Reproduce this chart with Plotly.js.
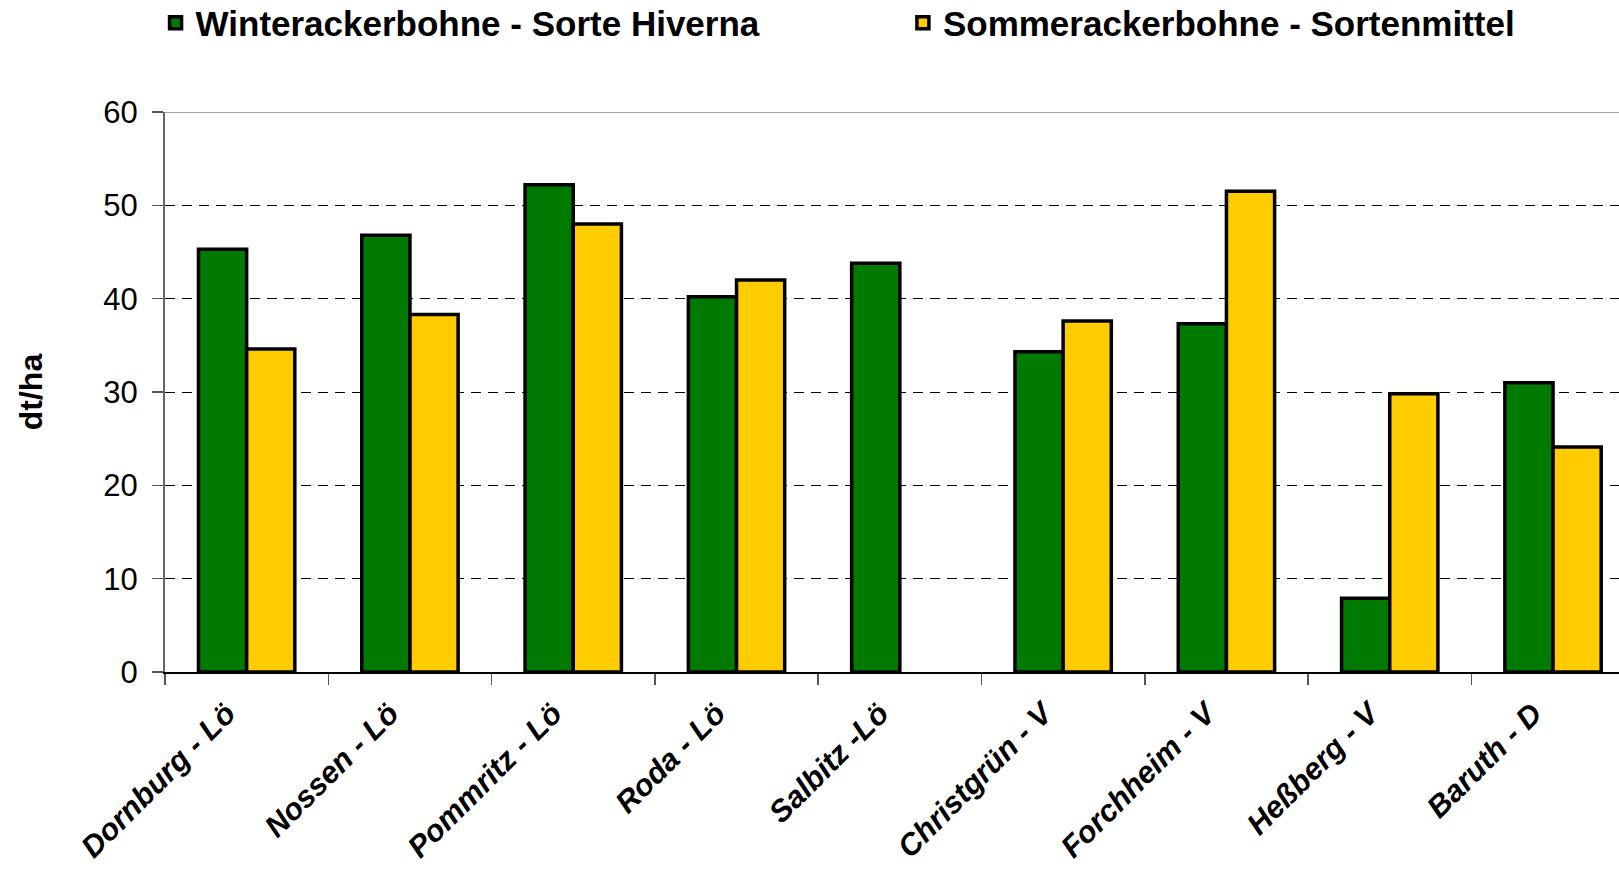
<!DOCTYPE html>
<html>
<head>
<meta charset="utf-8">
<script src="https://cdn.plot.ly/plotly-3.0.1.min.js"></script>
<style>html,body{margin:0;padding:0;background:#fff;}#chart{width:1619px;height:869px;}</style>
</head>
<body>
<div id="chart"></div>
<script>
const categories = ["Dornburg - Lö", "Nossen - Lö", "Pommritz - Lö", "Roda - Lö", "Salbitz -Lö",
                    "Christgrün - V", "Forchheim - V", "Heßberg - V", "Baruth - D"];
const winterName = "Winterackerbohne - Sorte Hiverna";
const sommerName = "Sommerackerbohne - Sortenmittel";
const winterValues = [45.3, 46.8, 52.2, 40.2, 43.8, 34.3, 37.3, 7.9, 31.0];
const sommerValues = [34.6, 38.3, 48.0, 42.0, null, 37.6, 51.5, 29.8, 24.1];
const yTicks = [0, 10, 20, 30, 40, 50, 60];

const font = "Liberation Sans, Arial, sans-serif";
const traces = [
  {type: "bar", name: winterName, x: categories, y: winterValues, legend: "legend",
   marker: {color: "#007A00", line: {color: "#000", width: 3.5}}},
  {type: "bar", name: sommerName, x: categories, y: sommerValues, legend: "legend2",
   marker: {color: "#FFCC00", line: {color: "#000", width: 3.5}}}
];
const yMax = yTicks[yTicks.length - 1];
const legendFont = {family: font, size: 35, weight: "bold", color: "#000"};
const layout = {
  width: 1619, height: 869,
  margin: {l: 165, r: 0, t: 112, b: 197, autoexpand: false},
  paper_bgcolor: "#fff", plot_bgcolor: "#fff",
  font: {family: font, color: "#000"},
  barmode: "group", bargap: 0.41, bargroupgap: 0,
  showlegend: true,
  legend: {orientation: "h", x: -0.0065, xanchor: "left", y: 1.159, yanchor: "middle",
           font: legendFont, bgcolor: "rgba(0,0,0,0)"},
  legend2: {orientation: "h", x: 0.5075, xanchor: "left", y: 1.159, yanchor: "middle",
           font: legendFont, bgcolor: "rgba(0,0,0,0)"},
  xaxis: {type: "category", range: [-0.5, 8.404], tickangle: -45,
          tickfont: {family: font, size: 30.5, weight: "bold", style: "italic", color: "#000"},
          ticklabelshift: -20, ticklabelstandoff: 10,
          showline: true, linecolor: "#000", linewidth: 1.5,
          ticks: "outside", tickson: "boundaries", ticklen: 11, tickcolor: "#555", tickwidth: 1.5,
          showgrid: false, fixedrange: true},
  yaxis: {range: [0, yMax], tickvals: yTicks, ticktext: yTicks.map(String),
          tickfont: {family: font, size: 31, color: "#000"},
          ticklabelstandoff: 8,
          showline: true, linecolor: "#666", linewidth: 2,
          ticks: "outside", ticklen: 11, tickcolor: "#555", tickwidth: 1.5,
          showgrid: true, gridcolor: "#000", gridwidth: 1, griddash: "10px,7px",
          zeroline: false,
          title: {text: "<b>dt/ha</b>", font: {family: font, size: 32, color: "#000"}, standoff: 51},
          fixedrange: true},
  shapes: [{type: "line", xref: "paper", x0: 0, x1: 1, yref: "y", y0: yMax, y1: yMax,
            line: {color: "#888", width: 1.5}, layer: "above"}]
};
Plotly.newPlot("chart", traces, layout, {displayModeBar: false, staticPlot: true});
</script>
</body>
</html>
